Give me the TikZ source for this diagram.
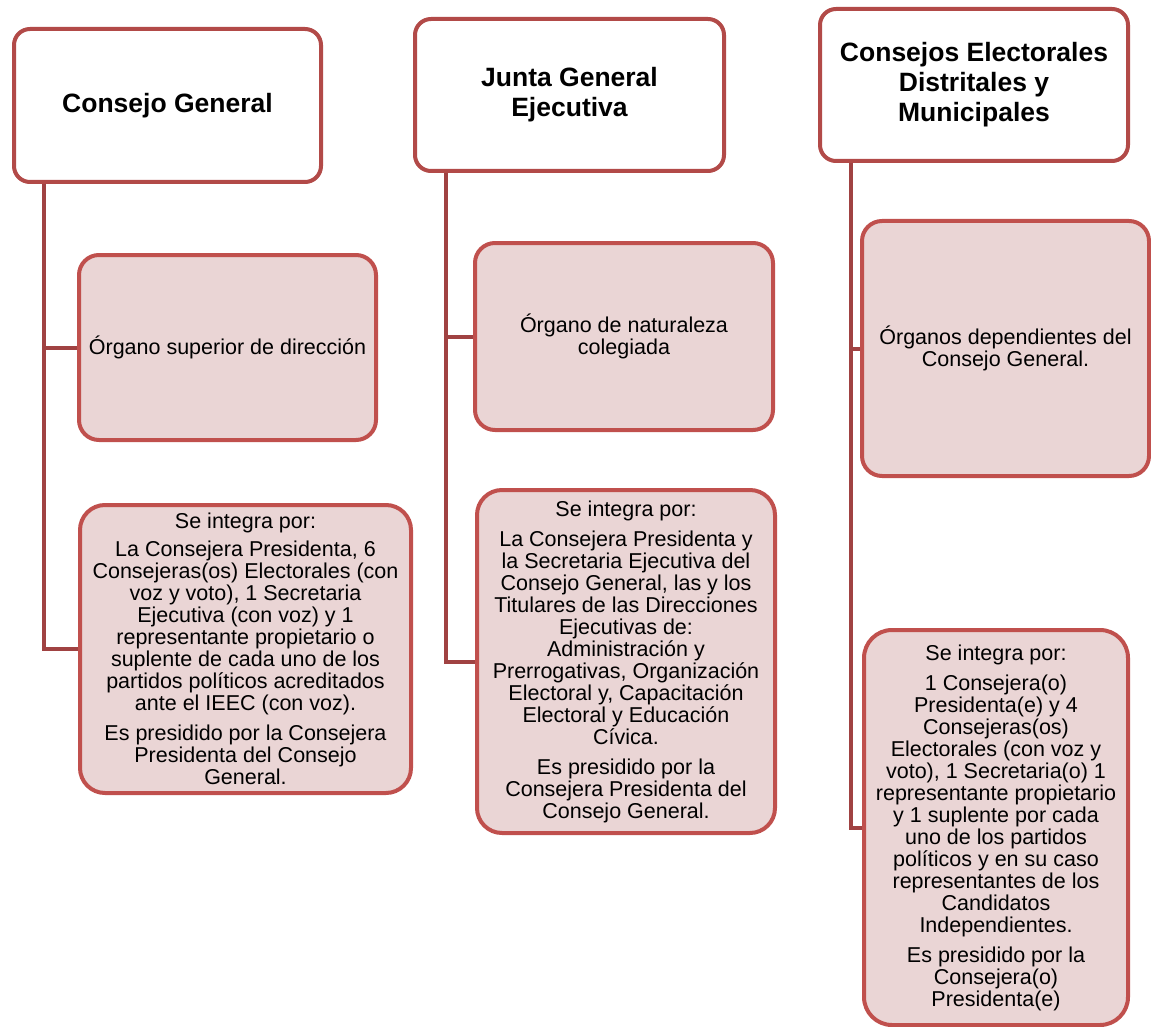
\documentclass[tikz,border=0pt]{standalone}
\usepackage{fontspec}
\setmainfont{Liberation Sans}

\definecolor{bordeTit}{RGB}{178,74,72}
\definecolor{bordeDet}{RGB}{192,80,77}
\definecolor{fondoDet}{RGB}{234,213,213}
\definecolor{lineaTronco}{RGB}{160,66,66}

\begin{document}
\begin{tikzpicture}[x=1pt,y=-1pt,
	titulo/.style={draw=bordeTit,line width=4pt,rounded corners=16pt,fill=white,
		align=center,inner sep=0pt,font=\fontsize{26.5}{30}\selectfont\bfseries},
	detalle/.style={draw=bordeDet,line width=4pt,rounded corners=20pt,fill=fondoDet,
		align=center,inner sep=0pt,font=\fontsize{21.5}{22}\selectfont},
	tronco/.style={draw=lineaTronco,line width=4pt}]

	\useasboundingbox (0,0) rectangle (1151,1027);

	% Consejo General
	\node[titulo,minimum width=307pt,minimum height=153pt] (cg) at (167.5,105.5) {Consejo General};
	\node[detalle,minimum width=297pt,minimum height=185pt] (cgA) at (227.5,347.5) {Órgano superior de dirección};
	\node[detalle,rounded corners=25pt,minimum width=331pt,minimum height=288pt] (cgB) at (245.5,649) {Se integra por:\\[6pt]
		La Consejera Presidenta, 6\\
		Consejeras(os) Electorales (con\\
		voz y voto), 1 Secretaria\\
		Ejecutiva (con voz) y 1\\
		representante propietario o\\
		suplente de cada uno de los\\
		partidos políticos acreditados\\
		ante el IEEC (con voz).\\[8pt]
		Es presidido por la Consejera\\
		Presidenta del Consejo\\
		General.};

	% Junta General Ejecutiva
	\node[titulo,minimum width=309pt,minimum height=152pt] (jg) at (569.5,95) {Junta General\\Ejecutiva};
	\node[detalle,minimum width=298pt,minimum height=187pt] (jgA) at (624,336.5) {Órgano de naturaleza\\colegiada};
	\node[detalle,rounded corners=25pt,minimum width=298pt,minimum height=343pt] (jgB) at (626,661.5) {Se integra por:\\[8pt]
		La Consejera Presidenta y\\
		la Secretaria Ejecutiva del\\
		Consejo General, las y los\\
		Titulares de las Direcciones\\
		Ejecutivas de:\\
		Administración y\\
		Prerrogativas, Organización\\
		Electoral y, Capacitación\\
		Electoral y Educación\\
		Cívica.\\[8pt]
		Es presidido por la\\
		Consejera Presidenta del\\
		Consejo General.};

	% Consejos Electorales Distritales y Municipales
	\node[titulo,minimum width=308pt,minimum height=152pt] (ce) at (974,85) {Consejos Electorales\\Distritales y\\Municipales};
	\node[detalle,minimum width=287pt,minimum height=255pt] (ceA) at (1005.5,348.5) {Órganos dependientes del\\Consejo General.};
	\node[detalle,rounded corners=28pt,minimum width=264pt,minimum height=395pt] (ceB) at (996,827.5) {Se integra por:\\[8pt]
		1 Consejera(o)\\
		Presidenta(e) y 4\\
		Consejeras(os)\\
		Electorales (con voz y\\
		voto), 1 Secretaria(o) 1\\
		representante propietario\\
		y 1 suplente por cada\\
		uno de los partidos\\
		políticos y en su caso\\
		representantes de los\\
		Candidatos\\
		Independientes.\\[8pt]
		Es presidido por la\\
		Consejera(o)\\
		Presidenta(e)};

	% troncos
	\draw[tronco] ([xshift=32pt]cg.south west) |- (cgA.west);
	\draw[tronco] ([xshift=32pt]cg.south west) |- (cgB.west);
	\draw[tronco] ([xshift=33pt]jg.south west) |- (jgA.west);
	\draw[tronco] ([xshift=33pt]jg.south west) |- (jgB.west);
	\draw[tronco] ([xshift=33pt]ce.south west) |- (ceA.west);
	\draw[tronco] ([xshift=33pt]ce.south west) |- (ceB.west);
\end{tikzpicture}
\end{document}
